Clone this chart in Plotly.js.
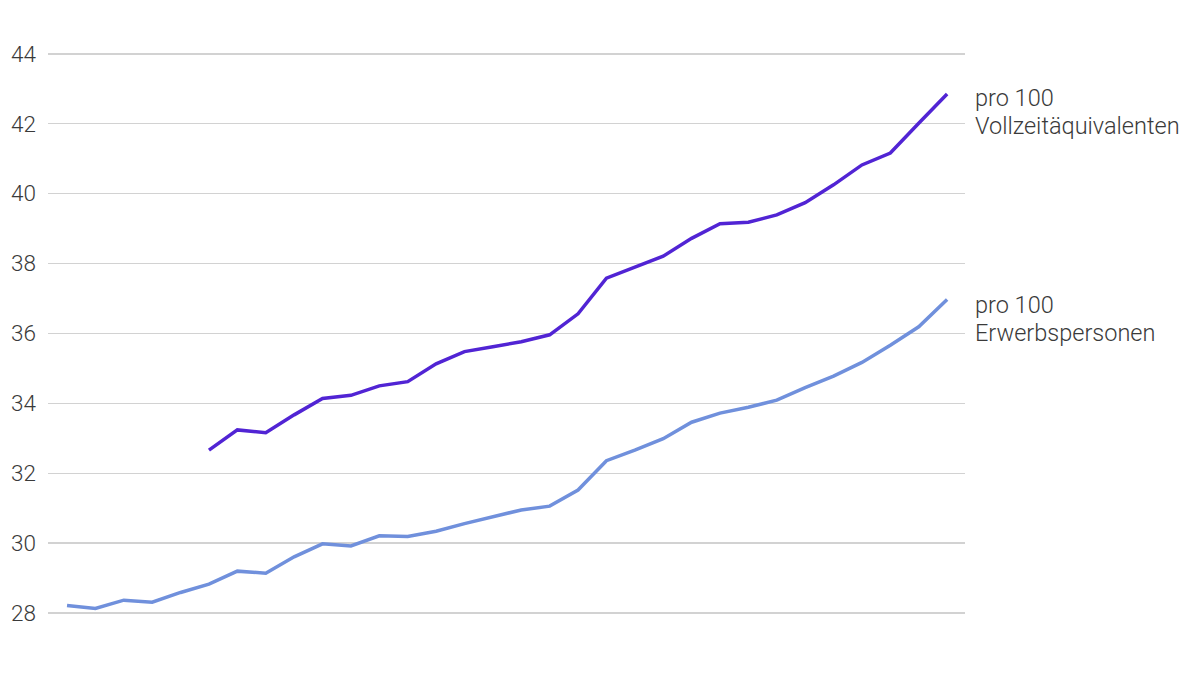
<!DOCTYPE html>
<html>
<head>
<meta charset="utf-8">
<script src="https://cdn.plot.ly/plotly-3.0.1.min.js"></script>
<style>
  html, body { margin: 0; padding: 0; background: #ffffff; overflow: hidden; }
  #chart { width: 1200px; height: 720px; }
</style>
</head>
<body>
<div id="chart"></div>
<script>
// Index of each yearly observation (no x labels shown in the chart)
const periods = Array.from({ length: 32 }, (_, i) => i);

// pro 100 Erwerbspersonen
const perLabourForce = [
    28.22, 28.13, 28.37, 28.31, 28.59, 28.83, 29.20, 29.14,
    29.61, 29.98, 29.92, 30.21, 30.19, 30.34, 30.56, 30.75,
    30.95, 31.06, 31.52, 32.36, 32.66, 32.99, 33.46, 33.72,
    33.89, 34.09, 34.45, 34.78, 35.17, 35.66, 36.19, 36.97
];

// pro 100 Vollzeitäquivalenten (series starts later)
const perFullTime = [
    null, null, null, null, null, 32.66, 33.24, 33.16,
    33.67, 34.14, 34.23, 34.50, 34.62, 35.13, 35.48, 35.62,
    35.76, 35.96, 36.56, 37.58, 37.90, 38.21, 38.72, 39.14,
    39.18, 39.39, 39.74, 40.25, 40.82, 41.16, 42.01, 42.85
];

// end labels, one entry per text line
const fullTimeLabel = ['pro 100', 'Vollzeitäquivalenten'];
const labourForceLabel = ['pro 100', 'Erwerbspersonen'];
const yTicks = [26, 28, 30, 32, 34, 36, 38, 40, 42, 44];

const colors = {
    dark: '#5124d4',
    light: '#7090dc',
    text: '#3a3a3a',
    grid: '#d2d2d2'
};

const fontFamily = 'Roboto, "Noto Sans", sans-serif';

const traces = [
    {
        x: periods,
        y: perLabourForce,
        type: 'scatter',
        mode: 'lines',
        line: { color: colors.light, width: 3.5 },
        hoverinfo: 'skip'
    },
    {
        x: periods,
        y: perFullTime,
        type: 'scatter',
        mode: 'lines',
        line: { color: colors.dark, width: 3.5 },
        hoverinfo: 'skip'
    }
];

const last = periods.length - 1;

// labels sit to the right of each line's last point
function endLabel(lines, yValue, firstShift) {
    return lines.map((text, i) => ({
        x: periods[last],
        y: yValue,
        xref: 'x',
        yref: 'y',
        text: text,
        showarrow: false,
        xanchor: 'left',
        yanchor: 'middle',
        align: 'left',
        xshift: 26,
        yshift: firstShift - i * 28,
        font: { family: fontFamily, size: 23.5, color: colors.text, weight: 300 }
    }));
}

const annotations = [
    ...endLabel(fullTimeLabel, perFullTime[last], -4),
    ...endLabel(labourForceLabel, perLabourForce[last], -5)
];

const layout = {
    width: 1200,
    height: 720,
    margin: { t: 52, b: 37, l: 48, r: 235 },
    paper_bgcolor: '#ffffff',
    plot_bgcolor: '#ffffff',
    showlegend: false,
    font: { family: fontFamily, size: 22, color: colors.text, weight: 300 },
    xaxis: {
        range: [-0.67, 31.63],
        showgrid: false,
        zeroline: false,
        showline: false,
        showticklabels: false,
        ticks: ''
    },
    yaxis: {
        range: [26, 44.05],
        tickvals: yTicks,
        ticktext: yTicks.map(String),
        showgrid: true,
        gridcolor: colors.grid,
        gridwidth: 1.5,
        zeroline: false,
        showline: false,
        ticks: '',
        ticklabelstandoff: 11,
        tickfont: { family: fontFamily, size: 22.5, color: colors.text, weight: 300 }
    },
    annotations: annotations
};

Plotly.newPlot('chart', traces, layout, { displayModeBar: false, staticPlot: true });
</script>
</body>
</html>
